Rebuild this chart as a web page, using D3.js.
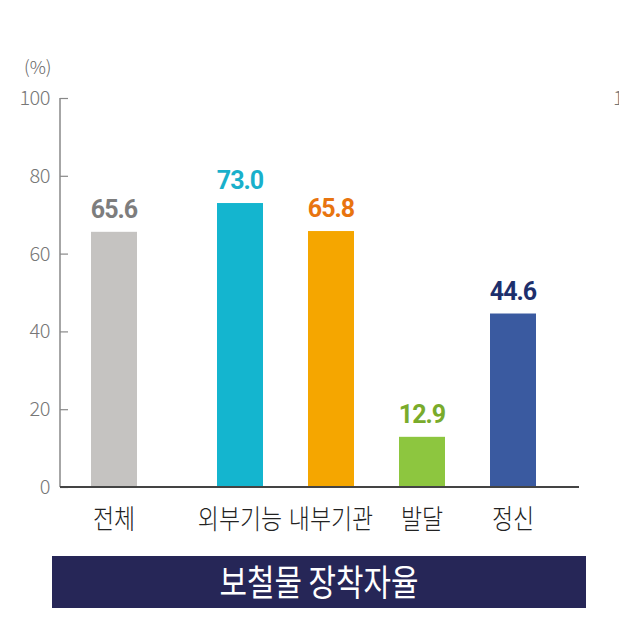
<!DOCTYPE html>
<meta charset="utf-8">
<script src="https://d3js.org/d3.v7.min.js"></script>
<style>
  body { margin: 0; background: #fff; }
</style>
<div id="chart"></div>
<script>
    // data
    var categories = ["전체", "외부기능", "내부기관", "발달", "정신"];
    var values = [65.6, 73.0, 65.8, 12.9, 44.6];
    var barColors = ["#c5c3c1", "#14b5cf", "#f5a600", "#8dc63f", "#3a5aa0"];
    var labelColors = ["#7d7d7d", "#19b0cb", "#e8740f", "#79ab2c", "#1d2f6c"];
    var yTicks = [0, 20, 40, 60, 80, 100];
    var title = "보철물 장착자율";

    var width = 619, height = 622;
    var margin = {top: 98, left: 60, bottom: 135, right: 40};
    var groupGap = 35; // extra space between 전체 and the rest

    var svg = d3.select("#chart")
      .append("svg")
        .attr("width", width)
        .attr("height", height);

    // y scale
    var y = d3.scaleLinear()
        .domain([0, 100])
        .range([height - margin.bottom, margin.top]);

    // x positions (centres of bars)
    var x = d3.scalePoint()
        .domain(categories)
        .range([114, 114 + 91 * (categories.length - 1)]);
    var cx = function(d, i) { return x(d) + (i > 0 ? groupGap : 0); };
    var barWidth = 46;

    var kr = "'Noto Sans CJK KR', 'Noto Sans', sans-serif";

    // y axis
    var yAxis = svg.append("g")
        .attr("transform", "translate(" + margin.left + ",0)")
        .call(d3.axisRight(y).tickValues(yTicks).tickSize(8).tickFormat(""));
    yAxis.select(".domain").remove();
    yAxis.selectAll(".tick line").attr("stroke", "#888").attr("stroke-width", 1.2);
    svg.append("line")
        .attr("x1", margin.left).attr("x2", margin.left)
        .attr("y1", y(100)).attr("y2", y(0))
        .attr("stroke", "#888").attr("stroke-width", 1.5);

    svg.selectAll(".ylab")
      .data(yTicks)
      .enter().append("text")
        .attr("class", "ylab")
        .attr("x", 50)
        .attr("y", d => y(d))
        .attr("dy", "0.35em")
        .attr("text-anchor", "end")
        .style("font-family", kr)
        .style("font-weight", 300)
        .style("font-size", "20px")
        .style("letter-spacing", "-0.5px")
        .style("fill", "#777")
        .text(d => d);

    // cut-off tick label of the next panel at the right edge
    svg.append("text")
        .attr("x", 613)
        .attr("y", y(100))
        .attr("dy", "0.35em")
        .style("font-family", kr)
        .style("font-weight", 300)
        .style("font-size", "20px")
        .style("fill", "#777")
        .text(yTicks[yTicks.length - 1]);

    svg.append("text")
        .attr("x", 24)
        .attr("y", 74)
        .style("font-family", kr)
        .style("font-weight", 300)
        .style("font-size", "18px")
        .style("fill", "#666")
        .text("(%)");

    // bars
    svg.selectAll(".bar")
      .data(categories)
      .enter().append("rect")
        .attr("class", "bar")
        .attr("x", (d, i) => cx(d, i) - barWidth / 2)
        .attr("y", (d, i) => y(values[i]))
        .attr("width", barWidth)
        .attr("height", (d, i) => y(0) - y(values[i]))
        .attr("fill", (d, i) => barColors[i]);

    // value labels
    svg.selectAll(".val")
      .data(categories)
      .enter().append("text")
        .attr("class", "val")
        .attr("x", (d, i) => cx(d, i))
        .attr("y", (d, i) => y(values[i]) - 14)
        .attr("text-anchor", "middle")
        .style("font-family", "Roboto, sans-serif")
        .style("font-weight", "bold")
        .style("font-size", "25px")
        .style("letter-spacing", "-1px")
        .style("fill", (d, i) => labelColors[i])
        .text((d, i) => values[i].toFixed(1));

    // baseline
    svg.append("line")
        .attr("x1", margin.left).attr("x2", 579)
        .attr("y1", y(0)).attr("y2", y(0))
        .attr("stroke", "#444").attr("stroke-width", 2);

    // category labels (narrowed to match the condensed original face)
    svg.selectAll(".cat")
      .data(categories)
      .enter().append("text")
        .attr("class", "cat")
        .attr("transform", (d, i) => "translate(" + cx(d, i) + ",529) scale(0.85,1)")
        .attr("text-anchor", "middle")
        .style("font-family", kr)
        .style("font-weight", 300)
        .style("font-size", "27px")
        .style("fill", "#222")
        .text(d => d);

    // title box
    svg.append("rect")
        .attr("x", 52).attr("y", 556)
        .attr("width", 534).attr("height", 52)
        .attr("fill", "#262657");
    svg.append("text")
        .attr("transform", "translate(319,596) scale(0.83,1)")
        .attr("text-anchor", "middle")
        .style("font-family", kr)
        .style("font-size", "36px")
        .style("fill", "#fff")
        .text(title);
</script>
